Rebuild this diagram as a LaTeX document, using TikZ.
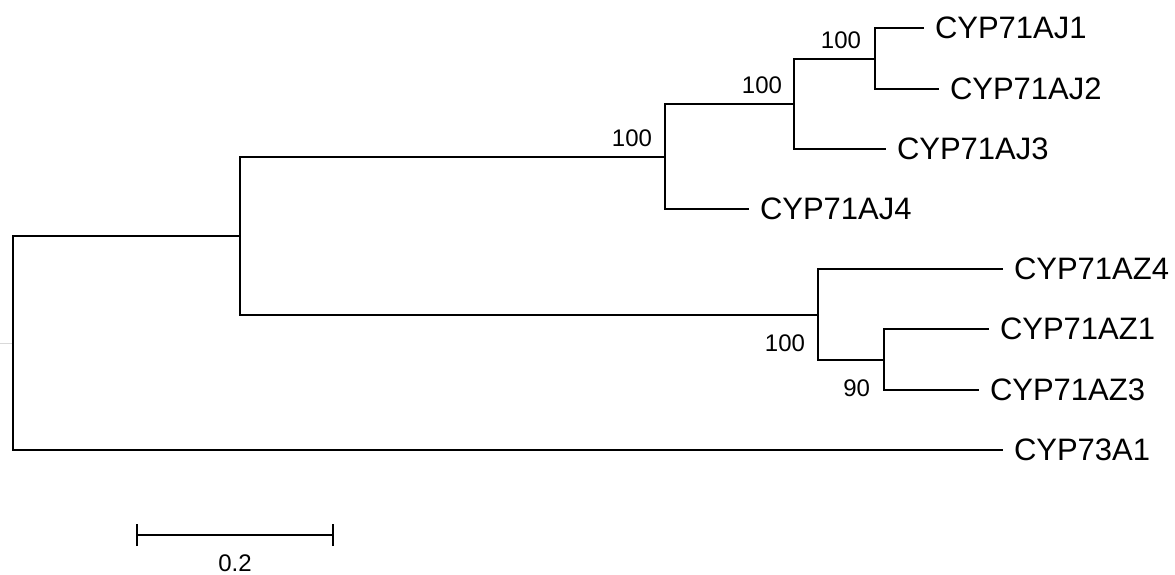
\documentclass[tikz,border=0pt]{standalone}
\usepackage{fontspec}
\setmainfont{Liberation Sans}
\begin{document}
\begin{tikzpicture}[x=1pt,y=-1pt,
  branch/.style={line width=2.2pt,line join=miter,line cap=rect},
  leaf/.style={anchor=west,inner xsep=12pt,inner ysep=0pt,outer sep=0pt,font=\fontsize{31}{36}\selectfont},
  boot/.style={inner sep=0pt,outer sep=0pt,font=\fontsize{24}{28}\selectfont}]
\useasboundingbox (0,0) rectangle (1175,575);
% internal nodes
\coordinate (root) at (13,343);
\coordinate (nA) at (240,236);
\coordinate (nAJ) at (665,157);
\coordinate (nAJ123) at (794,104);
\coordinate (nAJ12) at (875,59);
\coordinate (nAZ) at (818,315);
\coordinate (nAZ13) at (884,360);
\coordinate (stub) at (0,343);
% leaves
\node[leaf] (AJ1) at (923,28) {CYP71AJ1};
\node[leaf] (AJ2) at (938,89) {CYP71AJ2};
\node[leaf] (AJ3) at (885,149) {CYP71AJ3};
\node[leaf] (AJ4) at (748,209) {CYP71AJ4};
\node[leaf] (AZ4) at (1002,269) {CYP71AZ4};
\node[leaf] (AZ1) at (988,329) {CYP71AZ1};
\node[leaf] (AZ3) at (978,390) {CYP71AZ3};
\node[leaf] (A73) at (1002,450) {CYP73A1};
% branches
\draw[gray!30,line width=0.6pt] (stub) -- (root);
\draw[branch] (root) |- (nA);
\draw[branch] (root) |- (A73);
\draw[branch] (nA) |- (nAJ);
\draw[branch] (nA) |- (nAZ);
\draw[branch] (nAJ) |- (nAJ123);
\draw[branch] (nAJ) |- (AJ4);
\draw[branch] (nAJ123) |- (nAJ12);
\draw[branch] (nAJ123) |- (AJ3);
\draw[branch] (nAJ12) |- (AJ1);
\draw[branch] (nAJ12) |- (AJ2);
\draw[branch] (nAZ) |- (AZ4);
\draw[branch] (nAZ) |- (nAZ13);
\draw[branch] (nAZ13) |- (AZ1);
\draw[branch] (nAZ13) |- (AZ3);
% bootstrap values
\node[boot,anchor=south east] (bAJ) at (652,147) {100};
\node[boot,anchor=south east] (bAJ123) at (782,94) {100};
\node[boot,anchor=south east] (bAJ12) at (861,49) {100};
\node[boot,anchor=north east] (bAZ) at (805,335) {100};
\node[boot,anchor=north east] (bAZ13) at (870,380) {90};
% scale bar
\coordinate (s1) at (137,535);
\coordinate (s2) at (333,535);
\draw[branch,line cap=butt] (s1) -- (s2);
\draw[branch,line cap=butt] ([yshift=-11pt]s1) -- ([yshift=11pt]s1);
\draw[branch,line cap=butt] ([yshift=-11pt]s2) -- ([yshift=11pt]s2);
\node[boot,anchor=north] (sl) at (235,555) {0.2};
\end{tikzpicture}
\end{document}
